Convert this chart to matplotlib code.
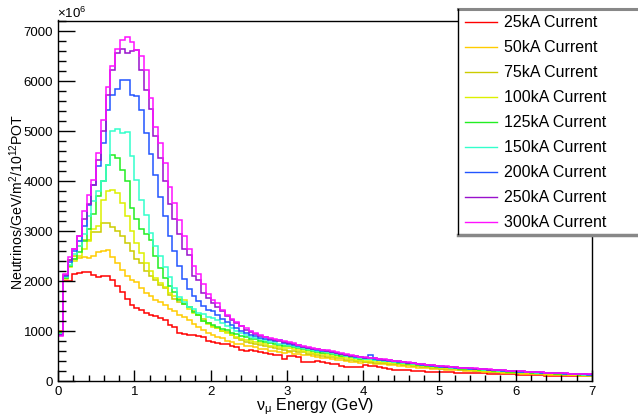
import numpy as np
import matplotlib
matplotlib.use("Agg")
import matplotlib.pyplot as plt
from matplotlib.patches import Rectangle
from matplotlib.lines import Line2D
from matplotlib.ticker import MultipleLocator

plt.rcParams['font.family'] = ['Liberation Sans', 'DejaVu Sans']
plt.rcParams['mathtext.fontset'] = 'custom'
plt.rcParams['mathtext.rm'] = 'Liberation Sans'
plt.rcParams['mathtext.it'] = 'Liberation Sans:italic'

bin_width = 0.0625  # GeV, 112 bins from 0 to 7

labels = ["25kA Current", "50kA Current", "75kA Current", "100kA Current",
          "125kA Current", "150kA Current", "200kA Current", "250kA Current",
          "300kA Current"]
colors = ["#ff0000", "#ffcc00", "#cccc00", "#ddf000", "#22ee22",
          "#33ffcc", "#2255ff", "#9911cc", "#ff11ff"]

# flux in units of 1e6 / GeV / m^2 / 1e12 POT, one row per GeV
flux_25 = [
    1010, 2010, 2010, 2150, 2160, 2180, 2180, 2120, 2090, 2110, 2100, 2030, 1900, 1780, 1650, 1520,
    1460, 1420, 1360, 1330, 1310, 1260, 1220, 1130, 1080, 960, 950, 930, 920, 900, 890, 800,
    790, 760, 750, 740, 700, 690, 620, 610, 630, 600, 580, 560, 540, 520, 520, 440,
    500, 500, 480, 390, 390, 385, 400, 380, 370, 350, 340, 300, 290, 285, 280, 290,
    320, 310, 300, 285, 260, 250, 230, 220, 215, 220, 205, 200, 195, 190, 188, 185,
    188, 180, 175, 165, 160, 160, 158, 152, 160, 155, 150, 145, 140, 138, 135, 132,
    130, 128, 125, 120, 118, 112, 110, 108, 105, 102, 100, 98, 96, 95, 94, 92,
]
flux_50 = [
    1000, 2050, 2420, 2450, 2470, 2490, 2460, 2500, 2580, 2600, 2620, 2490, 2360, 2220, 2100, 2020,
    1990, 1860, 1760, 1700, 1620, 1580, 1520, 1450, 1400, 1330, 1280, 1220, 1150, 1080, 1020, 960,
    920, 890, 860, 800, 790, 750, 740, 700, 710, 680, 650, 650, 610, 600, 590, 560,
    575, 550, 545, 520, 520, 495, 480, 470, 465, 445, 430, 415, 410, 390, 385, 370,
    375, 355, 350, 340, 342, 320, 318, 305, 300, 288, 290, 270, 262, 252, 250, 236,
    238, 226, 222, 214, 215, 202, 200, 192, 194, 182, 178, 172, 174, 162, 158, 152,
    154, 145, 144, 139, 142, 133, 130, 127, 128, 120, 118, 113, 114, 108, 106, 103,
]
flux_75 = [
    990, 2080, 2300, 2500, 2710, 2820, 2820, 2990, 2990, 3160, 3170, 3090, 3000, 2900, 2760, 2600,
    2450, 2360, 2200, 2100, 2020, 1930, 1860, 1720, 1640, 1590, 1550, 1490, 1400, 1330, 1250, 1160,
    1100, 1060, 1010, 990, 930, 860, 830, 790, 770, 740, 730, 700, 690, 655, 640, 625,
    610, 605, 580, 575, 550, 545, 520, 510, 490, 485, 460, 455, 430, 425, 405, 400,
    390, 384, 370, 368, 352, 348, 335, 332, 318, 312, 298, 295, 280, 276, 262, 258,
    250, 247, 236, 234, 224, 220, 212, 208, 200, 197, 190, 187, 180, 176, 170, 167,
    160, 159, 154, 152, 147, 145, 140, 138, 133, 131, 126, 124, 119, 117, 112, 110,
]
flux_100 = [
    975, 2060, 2280, 2400, 2500, 2650, 2800, 3050, 3100, 3620, 3810, 3820, 3760, 3560, 3300, 3000,
    2760, 2560, 2360, 2200, 2060, 1960, 1890, 1760, 1700, 1640, 1620, 1450, 1360, 1320, 1200, 1150,
    1090, 1060, 1000, 970, 920, 890, 850, 830, 800, 790, 760, 740, 710, 700, 675, 670,
    660, 645, 620, 610, 580, 570, 550, 540, 520, 510, 490, 480, 460, 450, 430, 420,
    410, 405, 392, 388, 375, 370, 355, 352, 340, 335, 320, 315, 300, 295, 280, 275,
    265, 262, 252, 249, 238, 234, 222, 220, 210, 208, 200, 197, 188, 185, 178, 175,
    170, 168, 162, 160, 155, 153, 147, 145, 140, 138, 132, 130, 125, 123, 118, 116,
]
flux_125 = [
    960, 2070, 2300, 2450, 2580, 2800, 3050, 3350, 3700, 4000, 4330, 4530, 4460, 4230, 4000, 3460,
    3250, 3050, 2950, 2820, 2500, 2260, 2070, 1900, 1790, 1620, 1550, 1490, 1380, 1320, 1200, 1160,
    1120, 1090, 1040, 1020, 970, 950, 895, 880, 845, 840, 795, 790, 755, 750, 715, 710,
    700, 680, 655, 635, 625, 600, 590, 570, 565, 540, 530, 510, 495, 475, 465, 445,
    440, 432, 420, 412, 400, 392, 378, 370, 355, 348, 335, 328, 315, 308, 295, 288,
    280, 274, 268, 262, 250, 246, 238, 234, 225, 222, 215, 210, 200, 198, 190, 187,
    180, 178, 172, 170, 165, 162, 156, 154, 150, 147, 142, 140, 132, 130, 125, 122,
]
flux_150 = [
    945, 2090, 2330, 2550, 2700, 2950, 3300, 3600, 3800, 4000, 4330, 5000, 5040, 4960, 4980, 4500,
    4030, 3630, 3330, 2960, 2700, 2500, 2290, 2090, 1860, 1690, 1590, 1480, 1440, 1370, 1340, 1280,
    1260, 1220, 1160, 1110, 1060, 1010, 970, 920, 890, 870, 840, 820, 790, 780, 750, 740,
    730, 705, 680, 665, 640, 625, 600, 595, 580, 565, 545, 535, 510, 500, 470, 460,
    450, 445, 430, 425, 410, 400, 385, 380, 365, 360, 345, 340, 320, 315, 300, 292,
    285, 290, 270, 268, 260, 255, 245, 242, 235, 230, 222, 218, 210, 205, 195, 192,
    185, 183, 178, 175, 170, 167, 162, 160, 155, 152, 146, 144, 138, 134, 128, 125,
]
flux_200 = [
    930, 2110, 2380, 2600, 2800, 3100, 3530, 3930, 4300, 4760, 5430, 5730, 5850, 6030, 6030, 5730,
    5700, 5430, 4960, 4550, 4130, 3690, 3300, 2900, 2600, 2300, 2050, 1850, 1700, 1600, 1500, 1420,
    1400, 1330, 1250, 1180, 1120, 1060, 1010, 960, 930, 900, 870, 850, 820, 810, 830, 760,
    750, 720, 700, 680, 660, 640, 620, 610, 600, 580, 560, 545, 530, 510, 490, 480,
    470, 530, 450, 430, 420, 410, 395, 390, 375, 365, 355, 340, 330, 320, 305, 295,
    290, 285, 280, 270, 262, 258, 250, 245, 240, 232, 225, 220, 215, 205, 200, 195,
    190, 188, 182, 178, 175, 170, 165, 162, 160, 153, 150, 146, 140, 138, 133, 130,
]
flux_250 = [
    915, 2130, 2420, 2650, 2900, 3250, 3550, 3930, 4430, 5000, 5730, 6230, 6570, 6650, 6570, 6600,
    6620, 6230, 5830, 5450, 4900, 4460, 4000, 3550, 3250, 2950, 2650, 2520, 2100, 2020, 1760, 1660,
    1560, 1480, 1400, 1300, 1220, 1160, 1100, 1030, 980, 950, 910, 880, 850, 820, 800, 780,
    770, 740, 720, 690, 670, 650, 640, 615, 600, 590, 565, 550, 530, 510, 495, 480,
    470, 460, 455, 440, 430, 415, 400, 395, 380, 370, 360, 345, 335, 325, 315, 300,
    295, 290, 280, 275, 265, 260, 255, 250, 240, 238, 230, 225, 218, 212, 205, 200,
    195, 192, 185, 180, 178, 172, 168, 162, 160, 155, 152, 148, 145, 140, 138, 135,
]
flux_300 = [
    910, 2150, 2480, 2650, 2900, 3400, 3720, 4030, 4560, 5230, 5890, 6300, 6650, 6830, 6880, 6780,
    6630, 6500, 6220, 5660, 5090, 4760, 4370, 3880, 3560, 3230, 2900, 2640, 2300, 2150, 1950, 1740,
    1620, 1560, 1420, 1330, 1250, 1180, 1110, 1060, 1000, 960, 930, 890, 860, 840, 820, 800,
    790, 760, 730, 700, 690, 660, 640, 630, 620, 600, 580, 560, 540, 520, 500, 490,
    480, 470, 460, 450, 440, 420, 410, 400, 390, 380, 370, 350, 340, 330, 320, 310,
    300, 295, 290, 280, 270, 265, 260, 255, 250, 240, 235, 230, 220, 215, 210, 205,
    200, 195, 190, 185, 180, 175, 170, 168, 165, 160, 155, 150, 150, 145, 145, 140,
]
series = [flux_25, flux_50, flux_75, flux_100, flux_125, flux_150,
          flux_200, flux_250, flux_300]

W, H = 638, 416
fig = plt.figure(figsize=(W / 100, H / 100), dpi=100)
ax = fig.add_axes([58 / W, 35 / H, 534 / W, 360.5 / H])

for vals, c in zip(series, colors):
    edges = np.arange(len(vals) + 1) * bin_width
    ax.stairs(vals, edges, color=c, lw=1.1, baseline=None)

ax.set_xlim(0, 7)
ax.set_ylim(0, 7220)
ax.xaxis.set_major_locator(MultipleLocator(1))
ax.xaxis.set_minor_locator(MultipleLocator(0.2))
ax.yaxis.set_major_locator(MultipleLocator(1000))
ax.yaxis.set_minor_locator(MultipleLocator(200))
ax.tick_params(axis='y', which='major', direction='in', length=12, width=1,
               pad=3.5, labelsize=9.5)
ax.tick_params(axis='y', which='minor', direction='in', length=6, width=1)
ax.tick_params(axis='x', which='major', direction='in', length=8, width=1,
               pad=3.5, labelsize=9.5)
ax.tick_params(axis='x', which='minor', direction='in', length=4.3, width=1)
for sp in ax.spines.values():
    sp.set_linewidth(1)

fig.text(57 / W, 1 - 18 / H, "×10$^{6}$", fontsize=9.5, ha='left', va='baseline')
fig.text(315 / W, 1 - 410.5 / H, "ν$_{\\mathrm{μ}}$ Energy (GeV)", fontsize=11.5,
         ha='center', va='baseline')
fig.text(16.5 / W, 1 - 202 / H, "Neutrinos/GeV/m$^{2}$/10$^{12}$POT",
         fontsize=10.2, rotation=90, ha='center', va='center')

# legend box in the top right corner (runs off the right edge)
fig.add_artist(Rectangle((458 / W, 1 - 234 / H), 182 / W, 225 / H,
                         transform=fig.transFigure, facecolor='white',
                         edgecolor='none', zorder=5))
fig.add_artist(Line2D([458 / W, 1], [1 - 9 / H] * 2, transform=fig.transFigure,
                      color='#888888', lw=2.2, zorder=6))
fig.add_artist(Line2D([458 / W, 1], [1 - 235 / H] * 2, transform=fig.transFigure,
                      color='#888888', lw=2.5, zorder=6))
fig.add_artist(Line2D([458.5 / W] * 2, [1 - 9 / H, 1 - 234 / H],
                      transform=fig.transFigure, color='black', lw=1, zorder=6))
for i, (lab, c) in enumerate(zip(labels, colors)):
    yc = 21.7 + 25 * i
    fig.add_artist(Line2D([465 / W, 497 / W], [1 - yc / H] * 2,
                          transform=fig.transFigure, color=c, lw=1.0, zorder=6))
    fig.text(504 / W, 1 - (yc + 5.6) / H, lab, fontsize=11.5, ha='left',
             va='baseline', zorder=6)

fig.savefig("out.png", dpi=100)
